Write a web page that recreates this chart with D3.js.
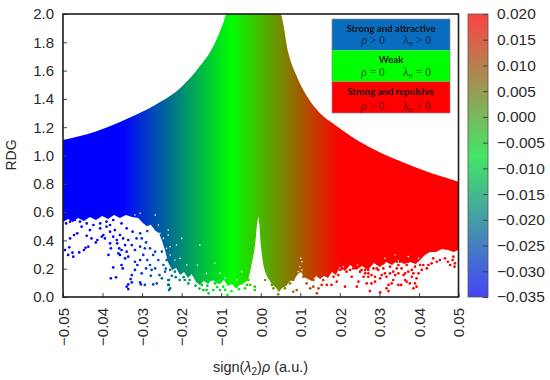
<!doctype html>
<html lang="en">
<head>
  <meta charset="UTF-8">
  <title>RDG scatter</title>
  <script src="https://cdn.jsdelivr.net/npm/d3@7"></script>
  <style>
    body { margin: 0; background: #fff; }
    text { font-family: "Liberation Sans", sans-serif; fill: #2a2a2a; }
  </style>
</head>
<body>
<div id="chart"></div>
<script>
  var xTicks = [-0.05, -0.04, -0.03, -0.02, -0.01, 0, 0.01, 0.02, 0.03, 0.04, 0.05];
  var yTicks = [0, 0.2, 0.4, 0.6, 0.8, 1.0, 1.2, 1.4, 1.6, 1.8, 2.0];
  var barTicks = [-0.035, -0.03, -0.025, -0.02, -0.015, -0.01, -0.005, 0, 0.005, 0.01, 0.015, 0.02];
  var colorStops = [-0.035, -0.0075, 0.02];
  var plotColors = ["#0000ff", "#00ff00", "#ff0000"];
  var barColors = ["#4444f6", "#44e664", "#fb4444"];

  // top edge of the cloud, read left to right
  var upperEdge = [[-0.05,1.11],[-0.0419,1.168],[-0.0335,1.263],[-0.0267,1.357],[-0.02,1.486],[-0.0158,1.616],
    [-0.0116,1.793],[-0.0095,1.934],[-0.0086,2.0],[0.0049,2.0],[0.007,1.722],[0.0095,1.534],[0.012,1.404],
    [0.015,1.298],[0.0188,1.216],[0.023,1.133],[0.0289,1.039],[0.0356,0.956],[0.0432,0.874],[0.05,0.815]];

  // bottom edge of the solid part
  var lowerEdge = [[-0.05,0.53],[-0.0487,0.551],[-0.0475,0.53],[-0.0462,0.558],[-0.0447,0.537],[-0.0432,0.565],[-0.0417,0.544],
    [-0.0401,0.572],[-0.0386,0.551],[-0.0371,0.579],[-0.0356,0.558],[-0.0341,0.579],[-0.0326,0.565],[-0.031,0.558],[-0.0298,0.523],
    [-0.0288,0.5],[-0.0278,0.51],[-0.0267,0.47],[-0.0257,0.45],[-0.025,0.4],[-0.0242,0.33],[-0.0235,0.25],[-0.0224,0.191],
    [-0.0214,0.205],[-0.0204,0.155],[-0.0194,0.177],[-0.0184,0.134],[-0.0174,0.163],[-0.0164,0.106],[-0.0154,0.085],[-0.0144,0.113],
    [-0.0133,0.092],[-0.0123,0.127],[-0.0113,0.099],[-0.0103,0.092],[-0.0093,0.12],[-0.0083,0.078],[-0.0073,0.092],[-0.0063,0.064],
    [-0.0053,0.085],[-0.0042,0.099],[-0.0032,0.12],[-0.0027,0.177],[-0.0022,0.247],[-0.0017,0.318],[-0.0013,0.403],[-0.001,0.502],
    [-0.0006,0.572],[-0.0003,0.502],[-0.0001,0.403],[0.0002,0.318],[0.0006,0.233],[0.0011,0.177],[0.0018,0.134],[0.0028,0.092],
    [0.0039,0.064],[0.0046,0.035],[0.0054,0.064],[0.0064,0.078],[0.0074,0.113],[0.0084,0.12],[0.0094,0.163],[0.0102,0.177],[0.0109,0.141],
    [0.0119,0.127],[0.0129,0.113],[0.014,0.148],[0.015,0.127],[0.016,0.148],[0.017,0.134],[0.018,0.177],[0.019,0.155],[0.02,0.212],
    [0.0213,0.184],[0.0226,0.226],[0.0241,0.191],[0.0256,0.219],[0.0271,0.191],[0.0286,0.24],[0.0301,0.212],[0.0317,0.247],[0.0332,0.226],
    [0.0347,0.261],[0.0362,0.233],[0.0377,0.247],[0.0392,0.233],[0.0403,0.261],[0.0415,0.297],[0.0428,0.318],[0.0443,0.318],[0.0458,0.339],
    [0.0473,0.332],[0.0488,0.318],[0.05,0.332]];

  var blueDots = [[-0.0495,0.332],[-0.0484,0.351],[-0.0487,0.297],[-0.0476,0.313],[-0.0474,0.285],[-0.0459,0.315],[-0.0447,0.332],[-0.0443,0.348],
    [-0.0436,0.356],[-0.0482,0.414],[-0.0472,0.438],[-0.0464,0.45],[-0.0453,0.497],[-0.044,0.433],[-0.0432,0.473],[-0.0428,0.414],[-0.0417,0.386],
    [-0.0413,0.403],[-0.0402,0.426],[-0.0398,0.438],[-0.0406,0.485],[-0.039,0.497],[-0.0381,0.509],[-0.0369,0.473],[-0.0381,0.379],[-0.0379,0.344],
    [-0.0385,0.297],[-0.0363,0.379],[-0.0358,0.344],[-0.036,0.308],[-0.0352,0.332],[-0.0356,0.297],[-0.0343,0.367],[-0.0339,0.32],[-0.0335,0.285],
    [-0.0343,0.273],[-0.0373,0.209],[-0.0352,0.226],[-0.0349,0.202],[-0.0379,0.132],[-0.0366,0.139],[-0.0326,0.155],[-0.0329,0.127],[-0.0335,0.089],
    [-0.0339,0.073],[-0.0335,0.056],[-0.0326,0.103],[-0.0318,0.191],[-0.0312,0.226],[-0.0305,0.261],[-0.0301,0.167],[-0.0305,0.103],[-0.0303,0.089],
    [-0.0293,0.085],[-0.0318,0.249],[-0.0297,0.297],[-0.0287,0.261],[-0.028,0.226],[-0.0276,0.191],[-0.0267,0.202],[-0.0272,0.089],[-0.0263,0.096],
    [-0.0256,0.155],[-0.0278,0.15],[-0.029,0.202],[-0.0293,0.344],[-0.0305,0.356],[-0.0318,0.332],[-0.0326,0.367],[-0.0335,0.403],[-0.0348,0.414],
    [-0.0356,0.438],[-0.0364,0.403],[-0.0373,0.426],[-0.0381,0.462],[-0.0394,0.414],[-0.0314,0.414],[-0.0301,0.414],[-0.029,0.386],[-0.028,0.344],
    [-0.0267,0.32],[-0.0287,0.466],[-0.0305,0.45],[-0.0324,0.462],[-0.0339,0.485],[-0.0352,0.52],[-0.0373,0.544],[-0.039,0.532],[-0.0406,0.52],
    [-0.0423,0.509],[-0.044,0.52],[-0.0457,0.532],[-0.047,0.544],[-0.0482,0.532],[-0.0492,0.52],[-0.0272,0.297],[-0.0259,0.261],[-0.025,0.32],
    [-0.0246,0.226],[-0.0238,0.261],[-0.0242,0.179],[-0.025,0.132],[-0.0234,0.12],[-0.0234,0.085],[-0.0229,0.061]];

  var greenDots = [[-0.0232,0.12],[-0.0232,0.085],[-0.0232,0.049],[-0.0204,0.214],[-0.02,0.238],[-0.0217,0.179],[-0.0229,0.191],[-0.0187,0.167],
    [-0.0192,0.12],[-0.0183,0.096],[-0.017,0.155],[-0.0158,0.202],[-0.0149,0.085],[-0.0145,0.049],[-0.0137,0.049],[-0.0132,0.026],[-0.012,0.049],
    [-0.0103,0.049],[-0.0084,0.014],[-0.0095,0.073],[-0.0074,0.042],[-0.0061,0.073],[-0.004,0.061],[-0.0027,0.085],[-0.0015,0.073],[-0.0015,0.049],
    [-0.0031,0.12],[-0.0124,0.12],[-0.0116,0.096],[-0.0128,0.143],[0.0011,0.12],[0.0028,0.085],[0.0032,0.061],[-0.0078,0.096],[-0.0048,0.096],
    [-0.024,0.2],[-0.0225,0.15],[-0.0215,0.14],[-0.0205,0.12],[-0.0195,0.14],[-0.018,0.12],[-0.0165,0.08],[-0.0155,0.06],[-0.0135,0.08],[-0.011,0.07],
    [-0.009,0.05],[-0.0055,0.055],[-0.0035,0.085]];

  var redDots = [[0.0044,0.019],[0.0061,0.061],[0.0082,0.037],[0.0091,0.049],[0.0074,0.096],[0.0082,0.12],[0.0116,0.096],[0.0125,0.061],[0.0133,0.073],
    [0.0142,0.026],[0.0146,0.061],[0.0154,0.085],[0.015,0.167],[0.0158,0.12],[0.0167,0.085],[0.0179,0.085],[0.0196,0.155],[0.0213,0.073],[0.0205,0.202],
    [0.0217,0.179],[0.023,0.143],[0.0243,0.073],[0.0247,0.108],[0.0234,0.202],[0.026,0.143],[0.0272,0.167],[0.0255,0.191],[0.0192,0.108],[0.0184,0.143],
    [0.0133,0.12],[0.0108,0.143],[0.0154,0.179],[0.0276,0.042],[0.0268,0.096],[0.028,0.096],[0.0289,0.143],[0.0302,0.132],[0.0302,0.033],[0.0323,0.042],
    [0.0318,0.061],[0.0323,0.085],[0.0331,0.096],[0.0335,0.12],[0.0348,0.085],[0.0355,0.085],[0.0369,0.108],[0.0365,0.167],[0.0382,0.143],[0.0394,0.132],
    [0.039,0.096],[0.0394,0.073],[0.0386,0.061],[0.0399,0.167],[0.0407,0.191],[0.042,0.202],[0.0424,0.226],[0.0432,0.238],[0.0445,0.249],[0.0473,0.249],
    [0.0479,0.226],[0.049,0.214],[0.0491,0.238],[0.0348,0.167],[0.0335,0.179],[0.0314,0.167],[0.0297,0.191],[0.028,0.155],[0.0272,0.143],[0.0382,0.191],
    [0.0369,0.226],[0.0356,0.202],[0.0327,0.214],[0.0344,0.249],[0.0264,0.167],[0.0293,0.202],[0.0289,0.108],[0.031,0.202],[0.0306,0.155],[0.0318,0.143],
    [0.034,0.155],[0.0344,0.202],[0.0361,0.155],[0.0365,0.12],[0.0377,0.096],[0.0373,0.179],[0.0386,0.167],[0.039,0.214],[0.0403,0.226],[0.0411,0.226],
    [0.0436,0.273],[0.0453,0.261],[0.0466,0.273],[0.0485,0.261],[0.0487,0.285],[0.0348,0.226],[0.0327,0.167],[0.0272,0.191],[0.0285,0.202],[0.031,0.238],
    [0.0331,0.249],[0.0352,0.249],[0.0373,0.249],[0.039,0.261],[0.0184,0.214],[0.0201,0.191],[0.0226,0.191],[0.0251,0.179],[0.0264,0.191]];

  // white specks inside the patchy part of the cloud
  var gapDots = [[-0.0229,0.356],[-0.0229,0.297],[-0.0234,0.438],[-0.0213,0.367],[-0.02,0.414],[-0.0187,0.226],[-0.0154,0.367],[-0.016,0.226],[-0.0116,0.238],
    [-0.0234,0.473],[-0.0238,0.249],[-0.0217,0.261],[-0.0204,0.273],[-0.0137,0.167],[-0.0103,0.167],[-0.009,0.132],[-0.0061,0.12],[-0.0048,0.179],
    [0.0101,0.273],[0.0104,0.249],[0.0099,0.214],[0.0104,0.191],[0.0095,0.179],[-0.0267,0.579],[-0.0259,0.509],[-0.0255,0.45],[-0.0246,0.414],[-0.0238,0.344],
    [-0.0263,0.414],[-0.0284,0.485],[-0.0305,0.591],[-0.0318,0.579],[0.0314,0.273],[0.034,0.297],[0.0373,0.285],[0.0399,0.273],[0.0462,0.315],[0.0479,0.297],
    [0.0209,0.214],[0.0245,0.226]];

  var legendRows = [
    {title: "Strong and attractive", rel: ">", fill: "#0a6cbc", ink: "#06264f"},
    {title: "Weak", rel: "=", fill: "#00ff00", ink: "#0a4a0a"},
    {title: "Strong and repulsive", rel: ">", fill: "#ff0000", ink: "#5a0808"}
  ];

  var width = 550, height = 380;
  var plotLeft = 63, plotRight = 458.5, plotTop = 14, plotBottom = 297;

  var svg = d3.select("#chart").append("svg")
      .attr("width", width)
      .attr("height", height)
      .style("display", "block");

  var x = d3.scaleLinear().domain([-0.05, 0.05]).range([plotLeft, plotRight]);
  var y = d3.scaleLinear().domain([0, 2]).range([plotBottom, plotTop]);
  var color = d3.scaleLinear().domain(colorStops).range(plotColors).clamp(true);
  var barColor = d3.scaleLinear().domain(colorStops).range(barColors);
  var barY = d3.scaleLinear().domain([-0.035, 0.02]).range([plotBottom, plotTop]);

  var defs = svg.append("defs");
  defs.append("clipPath").attr("id", "plot-clip").append("rect")
      .attr("x", plotLeft).attr("y", plotTop).attr("width", plotRight - plotLeft).attr("height", plotBottom - plotTop);
  defs.append("filter").attr("id", "soft").append("feGaussianBlur").attr("stdDeviation", 0.3);

  var cloudGrad = defs.append("linearGradient").attr("id", "cloud-grad")
      .attr("gradientUnits", "userSpaceOnUse")
      .attr("x1", x(-0.05)).attr("x2", x(0.05)).attr("y1", 0).attr("y2", 0);
  cloudGrad.selectAll("stop").data(colorStops).join("stop")
      .attr("offset", function(d) { return (x(d) - plotLeft) / (plotRight - plotLeft); })
      .attr("stop-color", function(d) { return color(d); });

  var barGrad = defs.append("linearGradient").attr("id", "bar-grad")
      .attr("x1", 0).attr("x2", 0).attr("y1", 1).attr("y2", 0);
  barGrad.selectAll("stop").data(colorStops).join("stop")
      .attr("offset", function(d) { return (d + 0.035) / 0.055; })
      .attr("stop-color", function(d) { return barColor(d); });

  var line = d3.line().x(function(d) { return x(d[0]); }).y(function(d) { return y(d[1]); });
  var smooth = d3.line().x(function(d) { return x(d[0]); }).y(function(d) { return y(d[1]); }).curve(d3.curveMonotoneX);
  var plot = svg.append("g").attr("clip-path", "url(#plot-clip)");

  // smooth along the top, jagged along the bottom
  var lowerPath = line(lowerEdge.slice().reverse());
  plot.append("path")
      .attr("d", smooth(upperEdge) + "L" + lowerPath.slice(1) + "Z")
      .attr("fill", "url(#cloud-grad)");

  plot.selectAll(".gap").data(gapDots).join("circle")
      .attr("class", "gap")
      .attr("cx", function(d) { return x(d[0]); })
      .attr("cy", function(d) { return y(d[1]); })
      .attr("r", 0.8)
      .attr("fill", "#fff");

  plot.selectAll(".dot").data(blueDots.concat(greenDots, redDots)).join("circle")
      .attr("class", "dot")
      .attr("cx", function(d) { return x(d[0]); })
      .attr("cy", function(d) { return y(d[1]); })
      .attr("r", 1.35)
      .attr("fill", function(d) { return color(d[0]); });

  // legend box pasted over the plot
  var rowY = d3.scaleBand().domain(d3.range(legendRows.length)).range([19, 113]);
  var titleBase = [32, 63, 95];
  var relBase = [44, 76, 110];
  var legend = svg.append("g");
  legend.selectAll("rect").data(legendRows).join("rect")
      .attr("x", 332).attr("width", 118)
      .attr("y", function(d, i) { return rowY(i); })
      .attr("height", rowY.bandwidth())
      .attr("fill", function(d) { return d.fill; });
  legend.append("rect").attr("x", 332).attr("y", 19).attr("width", 118).attr("height", 94)
      .attr("fill", "none").attr("stroke", "#8a8a8a").attr("stroke-width", 0.7);

  var legendText = legend.append("g").attr("filter", "url(#soft)");
  legendRows.forEach(function(row, i) {
    legendText.append("text")
        .attr("x", 391).attr("y", titleBase[i])
        .attr("text-anchor", "middle")
        .style("font-family", "Lato, sans-serif")
        .style("font-weight", "bold")
        .style("font-size", "9.6px")
        .style("fill", "#111")
        .text(row.title);
    var rho = legendText.append("text")
        .attr("x", 373).attr("y", relBase[i])
        .attr("text-anchor", "middle")
        .style("font-family", "Liberation Serif, serif")
        .style("font-size", "11.5px")
        .style("fill", row.ink);
    rho.append("tspan").style("font-style", "italic").text("ρ");
    rho.append("tspan").text(" " + row.rel + " 0");
    var lam = legendText.append("text")
        .attr("x", 417).attr("y", relBase[i])
        .attr("text-anchor", "middle")
        .style("font-family", "Liberation Serif, serif")
        .style("font-size", "11.5px")
        .style("fill", row.ink);
    lam.append("tspan").text("λ");
    lam.append("tspan").attr("dy", 2).style("font-size", "6px").text("H");
    lam.append("tspan").attr("dy", -2).text(" " + row.rel + " 0");
  });

  // axes
  var xAxis = svg.append("g")
      .attr("transform", "translate(0," + plotBottom + ")")
      .call(d3.axisBottom(x).tickValues(xTicks).tickSize(-4).tickFormat(d3.format(".2f")));
  xAxis.selectAll("text")
      .attr("transform", "rotate(-90)")
      .attr("text-anchor", "end")
      .attr("x", -11)
      .attr("y", 0)
      .attr("dy", "0.35em");

  var yAxis = svg.append("g")
      .attr("transform", "translate(" + plotLeft + ",0)")
      .call(d3.axisLeft(y).tickValues(yTicks).tickSize(-4).tickPadding(9).tickFormat(d3.format(".1f")));

  [xAxis, yAxis].forEach(function(a) {
    a.select(".domain").remove();
    a.selectAll("text").style("font-size", "15px").style("font-family", "Liberation Sans, sans-serif").attr("fill", "#2a2a2a");
    a.selectAll("line").attr("stroke", "#444");
  });

  svg.append("rect")
      .attr("x", plotLeft).attr("y", plotTop)
      .attr("width", plotRight - plotLeft).attr("height", plotBottom - plotTop)
      .attr("fill", "none").attr("stroke", "#1c1c1c").attr("stroke-width", 1.6);

  // colour bar
  svg.append("rect")
      .attr("x", 468).attr("y", plotTop).attr("width", 20).attr("height", plotBottom - plotTop)
      .attr("fill", "url(#bar-grad)")
      .attr("stroke", "#555").attr("stroke-width", 0.8);
  var barAxis = svg.append("g")
      .attr("transform", "translate(488,0)")
      .call(d3.axisRight(barY).tickValues(barTicks).tickSize(-5).tickPadding(9).tickFormat(d3.format(".3f")));
  barAxis.select(".domain").remove();
  barAxis.selectAll("text").style("font-size", "15.5px").style("font-family", "Liberation Sans, sans-serif").attr("fill", "#2a2a2a");
  barAxis.selectAll("line").attr("stroke", "#444");

  // axis titles
  svg.append("text")
      .attr("transform", "translate(16,155) rotate(-90)")
      .attr("text-anchor", "middle")
      .style("font-size", "14px")
      .text("RDG");

  var xTitle = svg.append("text")
      .attr("x", 260.5).attr("y", 372)
      .attr("text-anchor", "middle")
      .style("font-size", "14.5px");
  xTitle.append("tspan").text("sign(");
  xTitle.append("tspan").style("font-style", "italic").text("λ");
  xTitle.append("tspan").attr("dy", 3).style("font-size", "10px").text("2");
  xTitle.append("tspan").attr("dy", -3).text(")");
  xTitle.append("tspan").style("font-style", "italic").text("ρ");
  xTitle.append("tspan").text(" (a.u.)");
</script>
</body>
</html>
